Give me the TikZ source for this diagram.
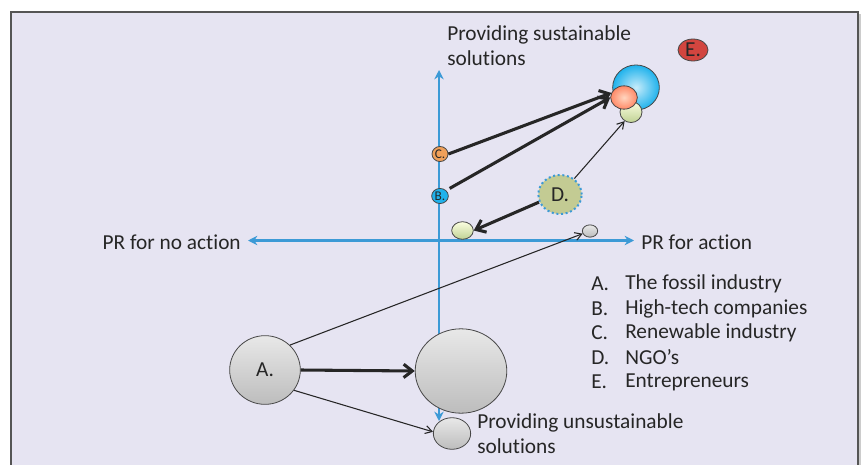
\documentclass[tikz,border=0pt]{standalone}
\usepackage{fontspec}
\setmainfont{Carlito}[Ligatures={NoCommon}]
\usetikzlibrary{shapes.geometric,arrows.meta}
\definecolor{panel}{HTML}{E6E4F2}
\definecolor{frameline}{HTML}{555555}
\definecolor{axisblue}{HTML}{3C9AD6}
\definecolor{ink}{HTML}{262626}
\definecolor{ered}{HTML}{D2453F}
\definecolor{corange}{HTML}{F0A05A}
\definecolor{bblue}{HTML}{1FB2EC}
\definecolor{dgreen}{HTML}{C3CB93}
\tikzset{
  blob/.style={ellipse, draw=ink!85, line width=0.6pt, inner sep=0pt, text=ink},
  grayblob/.style={blob, top color=gray!18, bottom color=gray!52},
  greenblob/.style={blob, top color=green!10!yellow!12, bottom color=green!30!yellow!40!gray!60},
  axis/.style={draw=axisblue, line width=1.9pt, {Stealth[length=7pt,width=7pt]}-{Stealth[length=7pt,width=7pt]}},
  thickarrow/.style={draw=ink, line width=2.3pt, -{Straight Barb[length=6.5pt,width=10pt,line width=2.3pt]}},
  thinarrow/.style={draw=ink, line width=0.8pt, -{Straight Barb[length=5pt,width=6pt]}},
  label/.style={text=ink, font=\fontsize{16}{18.75}\selectfont, inner sep=0pt},
  legend/.style={label, anchor=west},
  bigletter/.style={font=\fontsize{16}{18}\selectfont},
  smallletter/.style={font=\fontsize{10}{11}\selectfont},
}
\begin{document}
\begin{tikzpicture}[x=0.75pt,y=-0.75pt]
\useasboundingbox (0,0) rectangle (863,464);
% panel with a soft shadow on its right edge
\fill[gray!40] (13,14) rectangle (861,480);
\filldraw[fill=panel, draw=frameline, line width=1.3pt] (11,12) rectangle (858,480);

% axes
\coordinate (vtop) at (439,70);
\coordinate (vbot) at (439,421);
\coordinate (hleft) at (248,240.5);
\coordinate (hright) at (634,240.5);
\draw[axis] (hleft) -- (hright);
\draw[axis] (vbot) -- (vtop);

% axis labels
\node[label, anchor=east] (noaction) at (241,242) {PR for no action};
\node[label, anchor=west] (action) at (641,242) {PR for action};
\node[label, anchor=north west, align=left] (sust) at (447,25) {Providing sustainable\\solutions};
\node[label, anchor=north west, align=left] (unsust) at (477,413) {Providing unsustainable\\solutions};

% cluster of actors heading towards sustainable solutions
\node[blob, inner color=bblue!25, outer color=bblue, minimum width=35pt, minimum height=33.8pt] (bigblue) at (636,87.5) {};
\node[greenblob, minimum width=16.5pt, minimum height=15.8pt] (greentop) at (631,112) {};
\node[blob, inner color=red!30!orange!25, outer color=red!55!orange!60!white, minimum width=20pt, minimum height=17.5pt] (salmon) at (624,97.5) {};
\node[blob, bigletter, fill=ered, minimum width=22.5pt, minimum height=16.5pt] (E) at (693,50) {E.};

% actors on the vertical axis
\node[blob, smallletter, fill=corange, minimum width=12pt, minimum height=11.3pt] (C) at (440,154) {C.};
\node[blob, smallletter, fill=bblue, minimum width=12.5pt, minimum height=11.3pt] (B) at (440,196) {B.};

% NGOs
\node[ellipse, bigletter, fill=dgreen, draw=axisblue, dotted, line width=1.5pt, inner sep=0pt, minimum width=32.5pt, minimum height=29.3pt, text=ink] (D) at (560,194.5) {D.};
\node[greenblob, minimum width=16.2pt, minimum height=13.2pt] (greenlow) at (462.5,230.5) {};
\node[grayblob, minimum width=11.5pt, minimum height=9.2pt] (graysmall) at (590,231) {};

% fossil industry
\node[grayblob, bigletter, minimum width=53pt, minimum height=51.5pt] (A) at (265,370) {A.};
\node[grayblob, minimum width=68.7pt, minimum height=63.3pt] (biggray) at (461,371) {};
\node[grayblob, minimum width=28pt, minimum height=23.7pt] (graybot) at (452,433.5) {};

% movements
\draw[thickarrow] (C.east) -- (salmon.160);
\draw[thickarrow, shorten <=3pt] (B.north east) -- (salmon.180);
\draw[thinarrow] (D.48) -- (greentop.235);
\draw[thickarrow] (D.200) -- (greenlow.east);
\draw[thinarrow] (A.45) -- (graysmall.200);
\draw[thickarrow] (A.east) -- (biggray.west);
\draw[thinarrow] (A.-35) -- (graybot.175);

% legend
\foreach \ltr/\txt/\yy in {A/The fossil industry/284, B/High-tech companies/308.5, C/Renewable industry/333, D/NGO’s/357.5, E/Entrepreneurs/382}{
  \node[legend] (key\ltr) at (591,\yy) {\ltr.};
  \node[legend] (txt\ltr) at (625,\yy) {\txt};
}
\end{tikzpicture}
\end{document}
